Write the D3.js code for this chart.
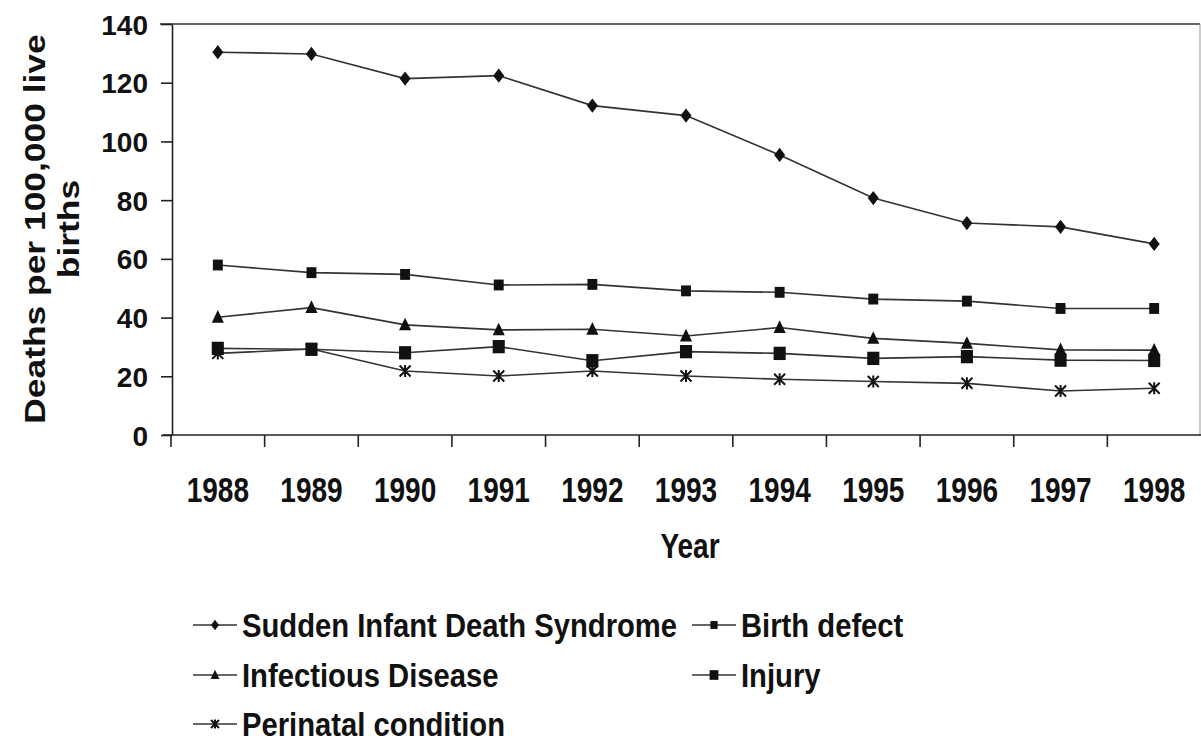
<!DOCTYPE html>
<html lang="en">
<head>
<meta charset="UTF-8">
<title>Infant deaths by cause</title>
<script src="https://d3js.org/d3.v7.min.js"></script>
<style>
  body { margin: 0; background: #fff; }
  svg { display: block; }
  .axis path, .axis line { fill: none; stroke: #222; stroke-width: 1.6; }
  .txt { font-family: "Liberation Sans", Arial, sans-serif; font-weight: bold; fill: #111; }
</style>
</head>
<body>
<script>
// data
var years = ["1988","1989","1990","1991","1992","1993","1994","1995","1996","1997","1998"];
var sids       = [130.4, 129.8, 121.4, 122.4, 112.2, 108.8, 95.4, 80.7, 72.2, 70.9, 65.1];
var birthDef   = [57.9, 55.3, 54.7, 51.1, 51.3, 49.1, 48.6, 46.3, 45.6, 43.1, 43.1];
var infectious = [40.1, 43.4, 37.5, 35.8, 36.0, 33.7, 36.6, 32.9, 31.2, 29.0, 28.9];
var injury     = [29.5, 29.2, 28.0, 30.1, 25.3, 28.4, 27.8, 26.1, 26.7, 25.5, 25.4];
var perinatal  = [27.8, 29.3, 21.8, 20.1, 21.8, 20.1, 19.0, 18.2, 17.6, 15.0, 15.9];
var yTicks = [0, 20, 40, 60, 80, 100, 120, 140];

var series = [
  {name: "Sudden Infant Death Syndrome", values: sids, mark: "diamond"},
  {name: "Birth defect", values: birthDef, mark: "square"},
  {name: "Infectious Disease", values: infectious, mark: "triangle"},
  {name: "Injury", values: injury, mark: "bigsquare"},
  {name: "Perinatal condition", values: perinatal, mark: "star"}
];

var width = 1201, height = 744;
var plotLeft = 172, plotRight = 1200, plotTop = 24, plotBottom = 435;

var svg = d3.select("body").append("svg")
    .attr("width", width)
    .attr("height", height);

var x = d3.scaleBand().domain(years).range([plotLeft - 1, plotRight + 1]);
var y = d3.scaleLinear().domain([0, 140]).range([plotBottom, plotTop]);

// frame (top and right)
svg.append("line").attr("x1", 160).attr("x2", plotRight).attr("y1", plotTop).attr("y2", plotTop)
    .attr("stroke", "#333").attr("stroke-width", 1.5);
svg.append("line").attr("x1", plotRight).attr("x2", plotRight).attr("y1", plotTop).attr("y2", plotBottom)
    .attr("stroke", "#999").attr("stroke-width", 1);

// y axis
var yAxis = svg.append("g").attr("class", "axis")
    .attr("transform", "translate(" + plotLeft + ",0)")
    .call(d3.axisLeft(y).tickValues(yTicks).tickSize(11).tickPadding(13).tickSizeOuter(0));
yAxis.selectAll("text").attr("class", "txt").style("font-size", "28px").attr("dy", "0.36em");

// x axis
var xAxis = svg.append("g").attr("class", "axis")
    .attr("transform", "translate(0," + plotBottom + ")")
    .call(d3.axisBottom(x).tickSize(0).tickSizeOuter(0));
xAxis.select(".domain").attr("d", "M163,0H" + width);
xAxis.selectAll(".tick text").attr("class", "txt").style("font-size", "35px")
    .attr("y", 0).attr("dy", 0)
    .attr("transform", "translate(0,67) scale(0.8,1)");
// category boundary ticks
xAxis.selectAll(".bt").data(years).enter().append("line")
    .attr("class", "bt")
    .attr("x1", function(d) { return x(d); })
    .attr("x2", function(d) { return x(d); })
    .attr("y1", 0).attr("y2", 12);

// y title
var yt = svg.append("text").attr("class", "txt").style("font-size", "30px")
    .attr("text-anchor", "middle")
    .attr("transform", "translate(45,229) rotate(-90) scale(1.18,1)");
yt.append("tspan").attr("x", 0).attr("y", 0).text("Deaths per 100,000 live");
yt.append("tspan").attr("x", 0).attr("y", 34).text("births");

// x title
svg.append("text").attr("class", "txt").style("font-size", "35px")
    .attr("text-anchor", "middle")
    .attr("transform", "translate(690,558) scale(0.8,1)")
    .text("Year");

// markers
function markPath(type, s) {
  var h;
  if (type === "diamond") { h = s; return "M0," + (-h * 0.65) + "L" + (h * 0.5) + ",0L0," + (h * 0.65) + "L" + (-h * 0.5) + ",0Z"; }
  if (type === "square") { h = s * 0.45; return "M" + (-h) + "," + (-h * 1.1) + "H" + h + "V" + (h * 1.1) + "H" + (-h) + "Z"; }
  if (type === "bigsquare") { h = s * 0.55; return "M" + (-h) + "," + (-h * 1.1) + "H" + h + "V" + (h * 1.1) + "H" + (-h) + "Z"; }
  if (type === "triangle") { h = s * 0.55; return "M0," + (-h * 1.2) + "L" + h + "," + (h * 0.9) + "L" + (-h) + "," + (h * 0.9) + "Z"; }
  return "";
}
function drawMark(g, type, cx, cy, s) {
  if (type === "star") {
    var r = s * 0.5;
    g.append("path")
      .attr("d", "M" + (cx - r) + "," + (cy - r) + "L" + (cx + r) + "," + (cy + r) +
                 "M" + (cx - r) + "," + (cy + r) + "L" + (cx + r) + "," + (cy - r) +
                 "M" + cx + "," + (cy - r * 1.1) + "V" + (cy + r * 1.1))
      .attr("stroke", "#111").attr("stroke-width", 2).attr("fill", "none");
  } else {
    g.append("path").attr("d", markPath(type, s))
      .attr("transform", "translate(" + cx + "," + cy + ")")
      .attr("fill", "#111");
  }
}

var line = d3.line()
    .x(function(d, i) { return x(years[i]) + x.bandwidth() / 2; })
    .y(function(d) { return y(d); });

var plot = svg.append("g");
series.forEach(function(s) {
  plot.append("path").datum(s.values)
    .attr("d", line)
    .attr("fill", "none").attr("stroke", "#333").attr("stroke-width", 1.6);
});
series.forEach(function(s) {
  var g = plot.append("g");
  s.values.forEach(function(v, i) {
    drawMark(g, s.mark, x(years[i]) + x.bandwidth() / 2, y(v), 11);
  });
});

// legend
var legPos = [[193, 625], [692, 625], [193, 675], [692, 675], [193, 724]];
var leg = svg.append("g");
series.forEach(function(s, i) {
  var px = legPos[i][0], py = legPos[i][1];
  var g = leg.append("g");
  g.append("line").attr("x1", px).attr("x2", px + 44).attr("y1", py).attr("y2", py)
    .attr("stroke", "#333").attr("stroke-width", 1.6);
  drawMark(g, s.mark, px + 22, py, 8);
  g.append("text").attr("class", "txt").style("font-size", "34px")
    .attr("transform", "translate(" + (px + 49) + "," + (py + 12) + ") scale(0.86,1)")
    .text(s.name);
});
</script>
</body>
</html>
